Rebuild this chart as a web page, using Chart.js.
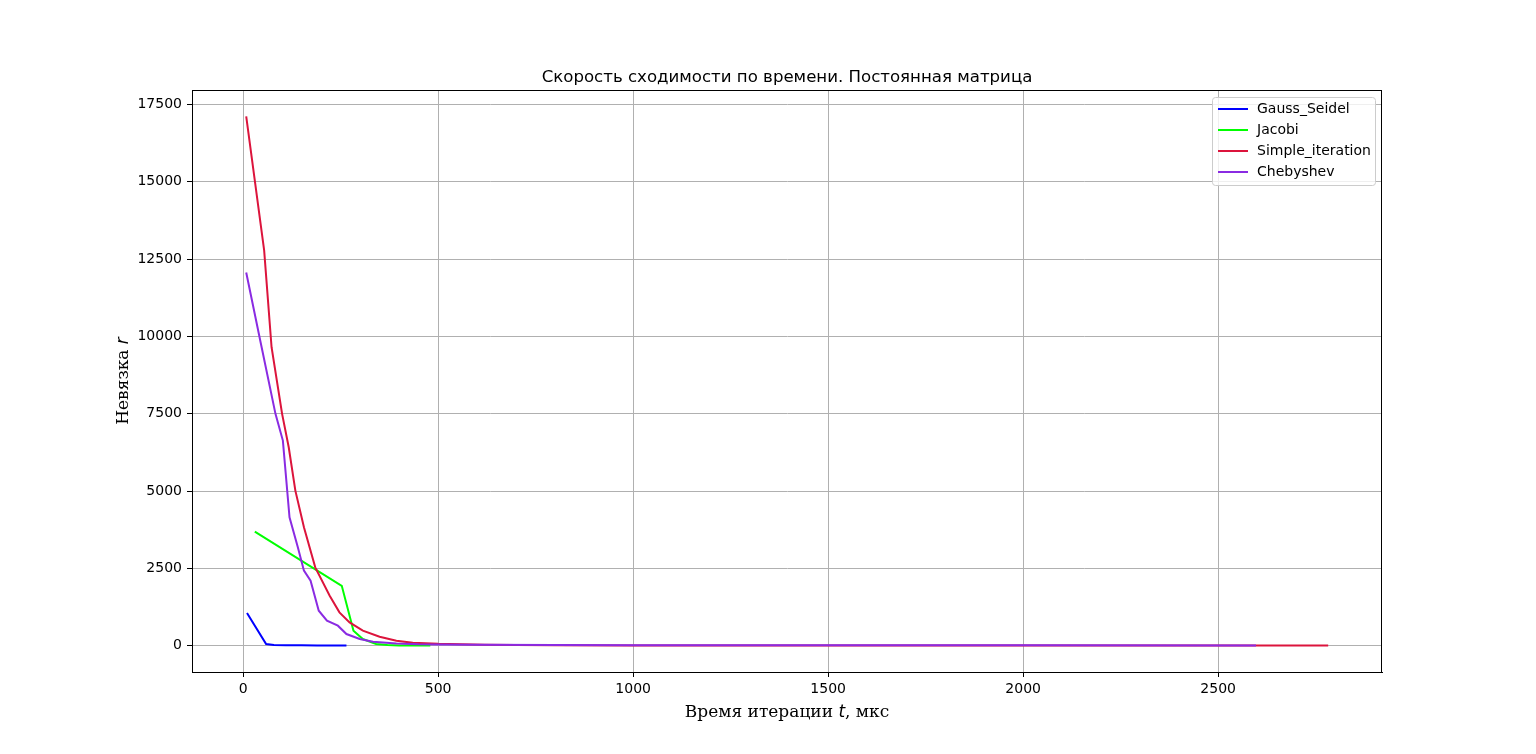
<!DOCTYPE html>
<html>
<head>
<meta charset="utf-8">
<script src="https://cdn.jsdelivr.net/npm/chart.js@4.4.1/dist/chart.umd.min.js"></script>
<style>
  html, body { margin: 0; padding: 0; background: #fff; }
  #wrap { width: 1536px; height: 754px; }
</style>
</head>
<body>
<div id="wrap"><canvas id="myChart" width="1536" height="754"></canvas></div>
<script>
// values
const gaussTime = [10, 59, 79, 110, 150, 190, 230, 265];
const gaussRes = [1057, 54, 22, 15, 12, 10, 8, 6];

const jacobiTime = [30, 253, 283, 307, 341, 370, 400, 440, 480];
const jacobiRes = [3688, 1935, 485, 216, 54, 20, 10, 5, 3];

const simpleTime = [8, 54, 73, 100, 117, 134, 156, 185, 222, 247, 273, 307, 350, 393, 435, 500, 560, 620, 700, 800, 1000, 1500, 2000, 2500, 2782];
const simpleRes = [17110, 12780, 9650, 7495, 6415, 5014, 3828, 2533, 1617, 1078, 755, 485, 291, 162, 97, 60, 45, 30, 20, 14, 10, 7, 5, 4, 3];

const chebTime = [8, 45, 83, 102, 119, 140, 156, 173, 194, 215, 243, 265, 299, 333, 393, 450, 500, 600, 800, 1000, 1500, 2000, 2597];
const chebRes = [12066, 9800, 7495, 6631, 4150, 3200, 2426, 2103, 1132, 809, 647, 378, 216, 129, 75, 45, 35, 28, 22, 18, 14, 12, 10];

const xTicks = [0, 500, 1000, 1500, 2000, 2500];
const yTicks = [0, 2500, 5000, 7500, 10000, 12500, 15000, 17500];

const seriesNames = ['Gauss_Seidel', 'Jacobi', 'Simple_iteration', 'Chebyshev'];
const seriesColors = ['#0000ff', '#00ff00', '#dc143c', '#8a2be2'];

function pts(xs, ys) {
    return xs.map((x, i) => ({x: x, y: ys[i]}));
}

const allData = [
    pts(gaussTime, gaussRes),
    pts(jacobiTime, jacobiRes),
    pts(simpleTime, simpleRes),
    pts(chebTime, chebRes)
];

const datasets = allData.map((d, i) => ({
    label: seriesNames[i],
    data: d,
    borderColor: seriesColors[i],
    backgroundColor: seriesColors[i],
    borderWidth: 2,
    pointRadius: 0,
    tension: 0,
    fill: false,
    order: 4 - i
}));

const tickFont = {family: 'DejaVu Sans', size: 14};

// title, axis labels, frame and legend drawn like matplotlib
const extras = {
    id: 'extras',
    afterDraw(chart) {
        const ctx = chart.ctx;
        const a = chart.chartArea;
        ctx.save();
        ctx.strokeStyle = '#000';
        ctx.lineWidth = 1;
        ctx.strokeRect(Math.round(a.left) + 0.5, Math.round(a.top) + 0.5,
            Math.round(a.right - a.left) - 1, Math.round(a.bottom - a.top));

        const cx = (a.left + a.right) / 2;
        ctx.fillStyle = '#000';
        ctx.textAlign = 'center';
        ctx.textBaseline = 'alphabetic';
        ctx.font = '16.6px "DejaVu Sans"';
        ctx.fillText('Скорость сходимости по времени. Постоянная матрица', cx, a.top - 8);

        // x label with italic t
        const serif = '17px "DejaVu Serif"';
        const ital = 'italic 17px "DejaVu Sans"';
        const parts = [['Время итерации ', serif], ['t', ital], [', мкс', serif]];
        let w = 0;
        parts.forEach(p => { ctx.font = p[1]; w += ctx.measureText(p[0]).width; });
        let x = cx - w / 2;
        ctx.textAlign = 'left';
        parts.forEach(p => { ctx.font = p[1]; ctx.fillText(p[0], x, 717); x += ctx.measureText(p[0]).width; });

        // y label rotated
        const yparts = [['Невязка ', serif], ['r', ital]];
        w = 0;
        yparts.forEach(p => { ctx.font = p[1]; w += ctx.measureText(p[0]).width; });
        ctx.translate(128, (a.top + a.bottom) / 2);
        ctx.rotate(-Math.PI / 2);
        x = -w / 2;
        yparts.forEach(p => { ctx.font = p[1]; ctx.fillText(p[0], x, 0); x += ctx.measureText(p[0]).width; });
        ctx.setTransform(1, 0, 0, 1, 0, 0);

        // legend box
        const lx = 1212, ly = 97, lw = 163, lh = 88;
        ctx.beginPath();
        ctx.roundRect(lx + 0.5, ly + 0.5, lw, lh, 3);
        ctx.fillStyle = 'rgba(255,255,255,0.8)';
        ctx.fill();
        ctx.strokeStyle = '#cccccc';
        ctx.stroke();
        ctx.font = '14px "DejaVu Sans"';
        ctx.textBaseline = 'middle';
        seriesNames.forEach((n, i) => {
            const yy = 109 + i * 21;
            ctx.strokeStyle = seriesColors[i];
            ctx.lineWidth = 2;
            ctx.beginPath();
            ctx.moveTo(1218, yy);
            ctx.lineTo(1248, yy);
            ctx.stroke();
            ctx.fillStyle = '#000';
            ctx.fillText(n, 1257, yy);
        });
        ctx.restore();
    }
};

let myChart = document.getElementById('myChart').getContext('2d');
Chart.defaults.color = '#000';
let convChart = new Chart(myChart, {
    type: 'line',
    data: {datasets: datasets},
    options: {
        responsive: false,
        animation: false,
        devicePixelRatio: 1,
        layout: {padding: {left: 0, top: 90, right: 154, bottom: 0}},
        scales: {
            x: {
                type: 'linear',
                min: -131,
                max: 2920,
                afterBuildTicks: s => { s.ticks = xTicks.map(v => ({value: v})); },
                afterFit: s => { s.height = 82; },
                ticks: {font: tickFont, padding: 4, maxRotation: 0, autoSkip: false, callback: v => String(v)},
                grid: {color: '#b0b0b0', lineWidth: 1, tickColor: '#000', tickLength: 5},
                border: {display: true, color: '#000', width: 1}
            },
            y: {
                type: 'linear',
                min: -850,
                max: 17965,
                afterBuildTicks: s => { s.ticks = yTicks.map(v => ({value: v})); },
                afterFit: s => { s.width = 192; },
                ticks: {font: tickFont, padding: 5, autoSkip: false, callback: v => String(v)},
                grid: {color: '#b0b0b0', lineWidth: 1, tickColor: '#000', tickLength: 5},
                border: {display: true, color: '#000', width: 1}
            }
        },
        plugins: {
            legend: {display: false},
            title: {display: false},
            tooltip: {enabled: false}
        }
    },
    plugins: [extras]
});
</script>
</body>
</html>
